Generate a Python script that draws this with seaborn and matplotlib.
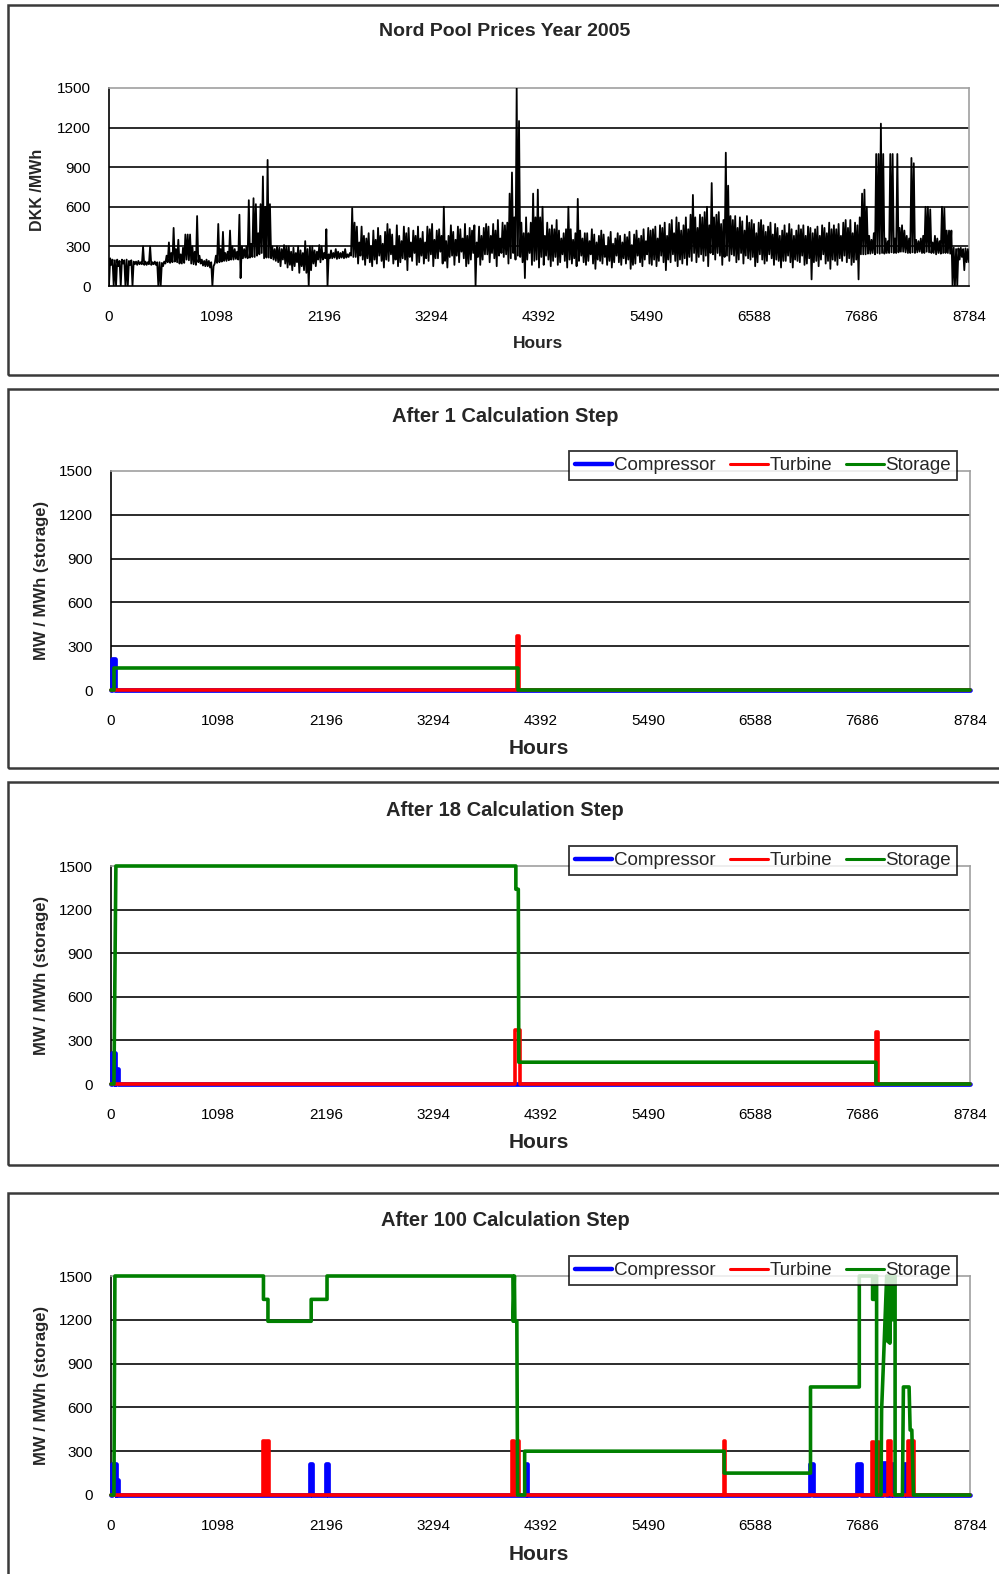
import matplotlib
matplotlib.use("Agg")
import matplotlib.pyplot as plt
import seaborn as sns
import pandas as pd
from matplotlib.patches import Rectangle
from matplotlib.lines import Line2D

W, H = 999, 1574

# ---- Nord Pool price data (DKK/MWh): daily low and daily high ------------
price_low = [
    0, 160, 0, 0, 150, 0, 170,
    0, 0, 160, 0, 165, 160, 165,
    165, 160, 160, 165, 160, 165, 160,
    0, 0, 150, 170, 180, 175, 180,
    185, 180, 170, 170, 175, 200, 195,
    170, 165, 160, 180, 170, 155, 150,
    150, 140, 0, 170, 175, 180, 185,
    190, 190, 195, 200, 200, 205, 200,
    60, 210, 215, 210, 215, 220, 220,
    230, 240, 250, 210, 215, 215, 210,
    200, 190, 180, 150, 200, 170, 140,
    160, 120, 150, 180, 100, 150, 120,
    100, 0, 120, 170, 150, 200, 180,
    200, 210, 0, 210, 210, 215, 205,
    210, 215, 210, 215, 220, 230, 220,
    220, 170, 230, 200, 160, 210, 180,
    150, 200, 170, 230, 190, 140, 200,
    190, 240, 170, 200, 150, 180, 210,
    200, 120, 220, 190, 250, 160, 180,
    230, 170, 210, 190, 240, 150, 210,
    210, 260, 170, 190, 140, 220, 230,
    160, 230, 180, 260, 210, 150, 170,
    200, 250, 0, 220, 160, 200, 240,
    240, 180, 250, 210, 150, 230, 250,
    220, 240, 170, 210, 250, 200, 230,
    220, 180, 60, 200, 250, 160, 190,
    200, 140, 220, 160, 230, 200, 150,
    190, 220, 160, 180, 240, 190, 140,
    200, 170, 210, 150, 190, 230, 180,
    160, 190, 240, 170, 130, 200, 190,
    170, 220, 160, 190, 140, 180, 230,
    180, 160, 210, 170, 200, 130, 160,
    170, 230, 180, 150, 200, 240, 170,
    160, 200, 150, 190, 230, 180, 120,
    200, 180, 240, 190, 150, 200, 170,
    210, 160, 220, 190, 250, 180, 220,
    240, 190, 230, 150, 250, 240, 200,
    250, 230, 160, 220, 230, 190, 240,
    230, 180, 200, 250, 170, 230, 210,
    200, 220, 150, 180, 240, 200, 170,
    190, 240, 210, 160, 200, 190, 140,
    190, 190, 230, 180, 140, 200, 190,
    180, 230, 160, 170, 210, 50, 180,
    190, 150, 200, 240, 170, 190, 130,
    200, 190, 160, 210, 190, 230, 180,
    210, 160, 180, 200, 50, 240, 240,
    240, 245, 245, 250, 240, 250, 245,
    250, 245, 250, 250, 255, 250, 250,
    255, 260, 260, 255, 250, 250, 255,
    250, 255, 260, 250, 250, 260, 255,
    250, 250, 240, 250, 245, 250, 250,
    250, 245, 0, 0, 0, 200, 220,
    120, 180, 180,
]
price_high = [
    210, 200, 195, 200, 190, 200, 195,
    200, 190, 195, 185, 185, 190, 180,
    300, 185, 180, 300, 180, 185, 180,
    180, 175, 185, 230, 330, 250, 440,
    280, 350, 240, 290, 390, 390, 390,
    300, 260, 530, 230, 200, 190, 200,
    190, 180, 150, 230, 470, 280, 410,
    250, 260, 420, 300, 280, 260, 540,
    300, 280, 300, 650, 320, 665, 620,
    400, 620, 830, 600, 955, 620, 300,
    280, 300, 290, 280, 310, 300, 300,
    260, 290, 250, 300, 270, 250, 340,
    280, 300, 300, 270, 260, 310, 300,
    250, 430, 240, 270, 250, 280, 260,
    250, 260, 280, 240, 250, 590, 480,
    450, 330, 450, 380, 360, 400, 300,
    420, 350, 440, 380, 320, 410, 470,
    430, 390, 300, 460, 380, 340, 450,
    400, 440, 330, 420, 380, 450, 360,
    410, 330, 450, 430, 470, 350, 420,
    430, 380, 600, 340, 380, 460, 410,
    350, 450, 430, 360, 470, 380, 440,
    420, 460, 330, 450, 380, 440, 470,
    450, 380, 470, 420, 500, 360, 480,
    460, 480, 700, 860, 520, 1500, 1250,
    480, 400, 520, 400, 480, 700, 520,
    730, 520, 600, 380, 480, 430, 460,
    430, 500, 420, 360, 400, 430, 600,
    430, 350, 400, 660, 420, 360, 400,
    400, 340, 430, 390, 330, 380, 420,
    390, 300, 370, 410, 320, 360, 400,
    380, 330, 390, 370, 410, 310, 390,
    420, 360, 380, 430, 340, 440, 420,
    430, 450, 360, 460, 440, 480, 380,
    470, 500, 400, 520, 480, 420, 460,
    520, 430, 540, 690, 520, 440, 540,
    520, 560, 600, 460, 780, 520, 540,
    560, 470, 500, 1010, 760, 530, 500,
    530, 440, 520, 490, 420, 530, 480,
    500, 470, 400, 480, 500, 460, 410,
    450, 480, 390, 470, 440, 380, 420,
    460, 400, 470, 430, 380, 420, 460,
    430, 460, 380, 450, 440, 400, 430,
    450, 380, 460, 440, 400, 480, 430,
    460, 430, 470, 380, 480, 500, 440,
    500, 400, 480, 460, 520, 700, 730,
    600, 380, 350, 400, 1000, 1000, 1230,
    1000, 360, 340, 1000, 1000, 360, 1000,
    440, 460, 420, 380, 360, 970, 930,
    350, 340, 360, 380, 600, 600, 580,
    330, 380, 360, 340, 600, 590, 420,
    420, 420, 290, 280, 285, 290, 280,
    285, 280, 200,
]

# ---- optimisation results: (start hour, end hour, MW) pulses --------------
comp_step1 = [(15, 45, 210)]
turb_step1 = [(4150, 4175, 370)]
stor_step1_h = [0, 30, 30, 4160, 4160, 8784]
stor_step1_v = [0, 0, 150, 150, 0, 0]

comp_step18 = [(15, 45, 210), (45, 70, 100)]
turb_step18 = [(4130, 4180, 370), (7822, 7840, 360)]
stor_step18_h = [0, 30, 50, 4140, 4140, 4165, 4170, 7822, 7822, 8784]
stor_step18_v = [0, 0, 1500, 1500, 1340, 1340, 150, 150, 0, 0]

comp_step100 = [(10, 50, 210), (50, 70, 100), (2040, 2060, 210), (2200, 2220, 210),
                (4240, 4255, 210), (7150, 7175, 210), (7630, 7670, 215),
                (7895, 7925, 220), (7975, 7995, 210), (8105, 8130, 210)]
turb_step100 = [(1555, 1570, 370), (1600, 1615, 370), (4100, 4125, 370),
                (4150, 4175, 370), (6265, 6280, 370), (7785, 7800, 360),
                (7838, 7852, 360), (7945, 7975, 370), (8150, 8170, 370),
                (8195, 8210, 370)]
stor_step100_h = [0, 30, 40, 1559, 1559, 1605, 1605, 2047, 2047, 2209, 2209,
                  4110, 4113, 4125, 4130, 4150, 4158, 4230, 4230, 6270, 6270,
                  7153, 7153, 7652, 7652, 7788, 7788, 7812, 7812, 7829, 7829,
                  7874, 7880, 7898, 7932, 7945, 7955, 7965, 7975, 7990, 8000,
                  8018, 8018, 8093, 8103, 8161, 8172, 8189, 8206, 8784]
stor_step100_v = [0, 0, 1500, 1500, 1340, 1340, 1190, 1190, 1340, 1340, 1500,
                  1500, 1190, 1500, 1190, 1190, 0, 0, 300, 300, 150,
                  150, 740, 740, 1500, 1500, 1340, 1340, 1500, 1500, 0,
                  0, 580, 890, 1500, 1050, 1500, 1040, 1500, 1200, 1500,
                  1500, 0, 0, 740, 740, 445, 445, 0, 0]

x_ticks = [0, 1098, 2196, 3294, 4392, 5490, 6588, 7686, 8784]
y_ticks = [0, 300, 600, 900, 1200, 1500]

BLUE, RED, GREEN = "#0000FF", "#FF0000", "#008000"


def pulses_to_frame(pulses):
    hrs, vals = [0], [0]
    for a, b, v in pulses:
        hrs += [a, a, b, b]
        vals += [0, v, v, 0]
    hrs.append(8784)
    vals.append(0)
    return pd.DataFrame({"hour": hrs, "value": vals})


def fig_rect(x0, y0, x1, y1):
    return [x0 / W, 1 - y1 / H, (x1 - x0) / W, (y1 - y0) / H]


def style_axes(ax):
    ax.set_xlim(0, 8784)
    ax.set_ylim(0, 1500)
    ax.set_xticks(x_ticks)
    ax.set_yticks(y_ticks)
    ax.set_xticklabels([str(t) for t in x_ticks])
    ax.set_yticklabels([str(t) for t in y_ticks])
    for y in [300, 600, 900, 1200]:
        ax.axhline(y, color="#1a1a1a", lw=1.3, zorder=1)
    for s in ["top", "right"]:
        ax.spines[s].set_color("#a0a0a0")
        ax.spines[s].set_linewidth(1.2)
    for s in ["left", "bottom"]:
        ax.spines[s].set_color("black")
        ax.spines[s].set_linewidth(1.2)
    ax.tick_params(axis="both", direction="out", length=5, width=1.2,
                   labelsize=11, colors="black")
    ax.tick_params(axis="x", pad=12)
    ax.tick_params(axis="y", pad=8)
    ax.set_xlabel("")
    ax.set_ylabel("")


sns.set_theme(style="white")
plt.rcParams["font.family"] = ["Liberation Sans", "DejaVu Sans"]

fig = plt.figure(figsize=(W / 100, H / 100), dpi=100)

# panel frames
for top, bottom in [(5, 375), (389, 768), (782, 1165), (1193, 1600)]:
    fig.patches.append(Rectangle((8 / W, 1 - bottom / H), 1100 / W, (bottom - top) / H,
                                 transform=fig.transFigure, fill=False,
                                 edgecolor="#3a3a3a", lw=1.8))

# ---- panel 1: prices -------------------------------------------------------
ax1 = fig.add_axes(fig_rect(109, 88, 969, 286))
hrs, vals = [], []
for d, (lo, hi) in enumerate(zip(price_low, price_high)):
    hrs += [24 * d, 24 * d + 12]
    vals += [lo, hi]
price_df = pd.DataFrame({"hour": hrs, "price": vals})
sns.lineplot(data=price_df, x="hour", y="price", ax=ax1, color="black", lw=1.3,
             estimator=None, sort=False, zorder=3)
style_axes(ax1)
fig.text(505 / W, 1 - 32 / H, "Nord Pool Prices Year 2005", ha="center", va="center",
         fontsize=14, fontweight="bold")
fig.text(38 / W, 1 - 190 / H, "DKK /MWh", rotation=90, ha="center", va="center",
         fontsize=11.5, fontweight="bold")
fig.text(538 / W, 1 - 343 / H, "Hours", ha="center", va="center",
         fontsize=12.5, fontweight="bold")

# ---- panels 2-4: calculation steps ----------------------------------------
panels = [
    ("After 1 Calculation Step", (471, 690), comp_step1, turb_step1,
     stor_step1_h, stor_step1_v),
    ("After 18 Calculation Step", (866, 1084), comp_step18, turb_step18,
     stor_step18_h, stor_step18_v),
    ("After 100 Calculation Step", (1276, 1495), comp_step100, turb_step100,
     stor_step100_h, stor_step100_v),
]

for title, (ytop, ybot), comp, turb, st_h, st_v in panels:
    ax = fig.add_axes(fig_rect(111, ytop, 970, ybot))
    comp_df = pulses_to_frame(comp)
    turb_df = pulses_to_frame(turb)
    stor_df = pd.DataFrame({"hour": st_h, "value": st_v})
    sns.lineplot(data=comp_df, x="hour", y="value", ax=ax, color=BLUE, lw=3.4,
                 estimator=None, sort=False, zorder=3, clip_on=False)
    sns.lineplot(data=turb_df, x="hour", y="value", ax=ax, color=RED, lw=2.6,
                 estimator=None, sort=False, zorder=3, clip_on=False)
    sns.lineplot(data=stor_df, x="hour", y="value", ax=ax, color=GREEN, lw=2.6,
                 estimator=None, sort=False, zorder=3, clip_on=False)
    style_axes(ax)
    handles = [Line2D([], [], color=BLUE, lw=3.2), Line2D([], [], color=RED, lw=2.2),
               Line2D([], [], color=GREEN, lw=2.2)]
    leg = ax.legend(handles, ["Compressor", "Turbine", "Storage"], ncol=3,
                    loc="center", bbox_to_anchor=(763 / W, 1 - (ytop - 5.5) / H),
                    bbox_transform=fig.transFigure, frameon=True, fancybox=False,
                    edgecolor="black", fontsize=13.5, handlelength=2.0,
                    handletextpad=0.1, columnspacing=0.75, borderpad=0.3,
                    borderaxespad=0)
    leg.get_frame().set_linewidth(1.3)
    leg.set_zorder(10)
    ymid = ytop - 55
    fig.text(505 / W, 1 - ymid / H, title, ha="center", va="center",
             fontsize=14.5, fontweight="bold")
    fig.text(42 / W, 1 - (ytop + ybot) / 2 / H, "MW / MWh (storage)", rotation=90,
             ha="center", va="center", fontsize=12, fontweight="bold")
    fig.text(539 / W, 1 - (ybot + 59) / H, "Hours", ha="center", va="center",
             fontsize=15, fontweight="bold")

fig.savefig("out.png", dpi=100)
